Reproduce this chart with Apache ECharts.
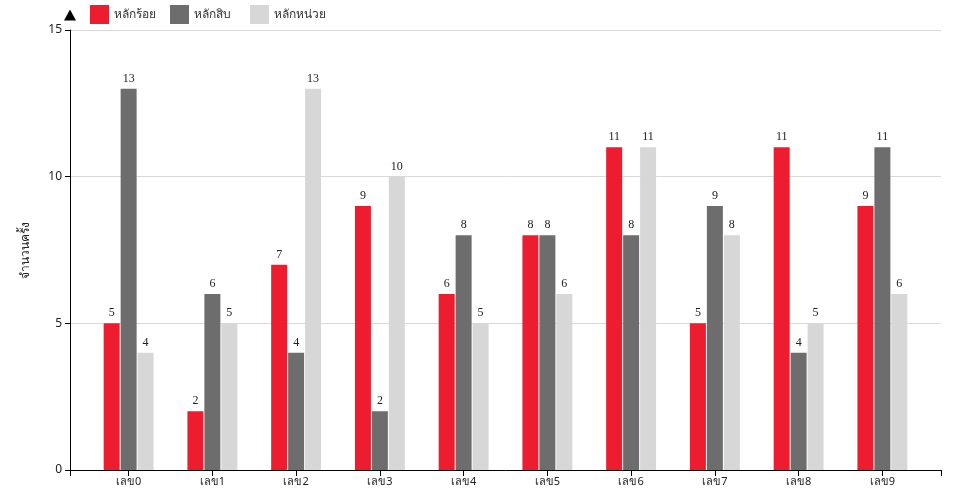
<!DOCTYPE html>
<html>
<head>
<meta charset="utf-8">
<script src="https://cdn.jsdelivr.net/npm/echarts@6/dist/echarts.min.js"></script>
<style>
  html, body { margin: 0; padding: 0; background: #fff; }
  #chart { width: 960px; height: 500px; }
</style>
</head>
<body>
<div id="chart"></div>
<script>
const categories = ['เลข0', 'เลข1', 'เลข2', 'เลข3', 'เลข4', 'เลข5', 'เลข6', 'เลข7', 'เลข8', 'เลข9']
const hundreds = [5, 2, 7, 9, 6, 8, 11, 5, 11, 9]
const tens = [13, 6, 4, 2, 8, 8, 8, 9, 4, 11]
const units = [4, 5, 13, 10, 5, 6, 11, 8, 5, 6]
const seriesNames = ['หลักร้อย', 'หลักสิบ', 'หลักหน่วย']
const colors = ['#ED1C2E', '#6D6D6E', '#D7D7D7']

let myChart = echarts.init(document.getElementById('chart'))

const positions = categories.map((c, i) => i)
const pad = 0.7

function makeSeries (name, values, color) {
  return {
    name: name,
    type: 'bar',
    barWidth: 16,
    barGap: '6%',
    itemStyle: { color: color },
    label: {
      show: true,
      position: 'top',
      distance: 4,
      color: '#222',
      fontFamily: 'Liberation Serif',
      fontSize: 12
    },
    data: values.map((v, i) => [positions[i], v])
  }
}

// one legend per item so they sit 80px apart like the original
function makeLegend (name, i) {
  return {
    left: 85 + i * 80,
    top: 0,
    icon: 'rect',
    itemWidth: 19,
    itemHeight: 19,
    textStyle: { fontFamily: 'Noto Sans', fontSize: 12, color: '#333' },
    data: [name]
  }
}

let option = {
  animation: false,
  color: colors,
  grid: { left: 70, right: 19, top: 30, bottom: 30 },
  legend: seriesNames.map(makeLegend),
  xAxis: {
    type: 'value',
    min: -pad,
    max: categories.length - 1 + pad,
    splitLine: { show: false },
    axisLine: { onZero: false, lineStyle: { color: '#000', width: 1 } },
    axisTick: {
      show: true,
      length: 6,
      lineStyle: { color: '#000' },
      customValues: [-pad].concat(positions, [categories.length - 1 + pad])
    },
    axisLabel: {
      customValues: positions,
      formatter: v => categories[Math.round(v)],
      color: '#222',
      fontFamily: 'Noto Sans',
      fontSize: 11,
      margin: 6
    }
  },
  yAxis: {
    type: 'value',
    min: 0,
    max: 15,
    interval: 5,
    name: 'จำนวนครั้ง',
    nameLocation: 'middle',
    nameGap: 38,
    nameTextStyle: { fontFamily: 'Noto Sans', fontSize: 12, color: '#222' },
    axisLine: {
      show: true,
      onZero: false,
      symbol: ['none', 'triangle'],
      symbolSize: [12, 11],
      symbolOffset: [0, 15],
      lineStyle: { color: '#000', width: 1 }
    },
    axisTick: { show: true, length: 5, lineStyle: { color: '#000' } },
    axisLabel: { color: '#222', fontFamily: 'Noto Sans', fontSize: 12, margin: 8 },
    splitLine: { show: true, lineStyle: { color: '#d9d9d9' } }
  },
  series: [
    makeSeries(seriesNames[0], hundreds, colors[0]),
    makeSeries(seriesNames[1], tens, colors[1]),
    makeSeries(seriesNames[2], units, colors[2])
  ]
}
myChart.setOption(option, true)
</script>
</body>
</html>
